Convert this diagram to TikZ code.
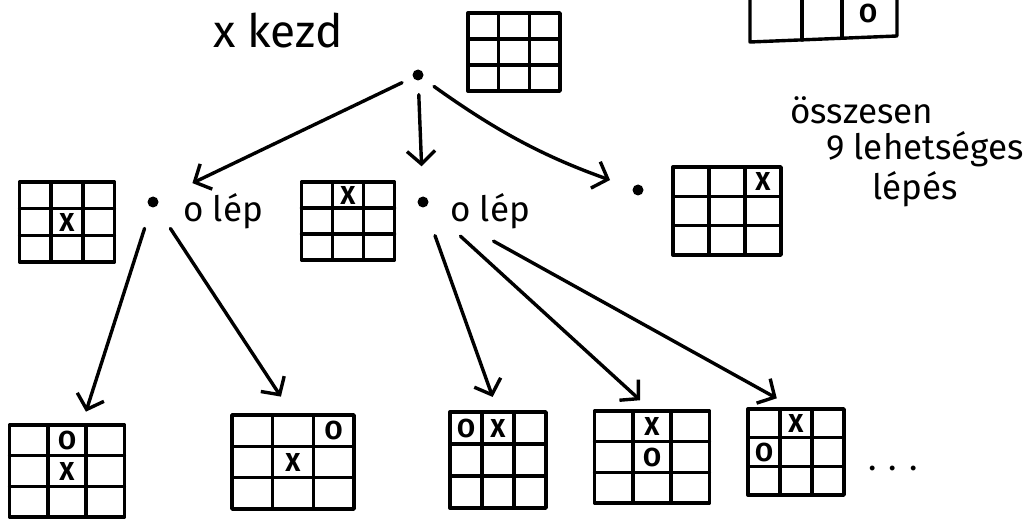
\documentclass[tikz,border=0pt]{standalone}
\usepackage{fontspec}
\setmainfont{Fira Sans}
\usetikzlibrary{arrows.meta,calc}
\tikzset{
 ink/.style={line width=3.4pt, line cap=round, line join=round},
 board/.style={draw, ink, rectangle, inner sep=0pt, outer sep=0pt},
 gridline/.style={ink},
 dot/.style={circle, fill, inner sep=0pt, minimum size=11pt},
 arr/.style={ink, -{Straight Barb[length=13pt,width=28pt]}},
 hand/.style={font=\fontsize{35}{36}\selectfont\mdseries, inner sep=0pt, anchor=base west},
 cellmark/.style={font=\fontsize{26}{26}\selectfont\bfseries, inner sep=0pt},
}
\newcommand\tttboard[5]{%
 \node[board, minimum width=#4pt, minimum height=#5pt] (#1) at (#2,#3) {};
 \foreach \k in {1,2}{
  \draw[gridline] ($(#1.north west)!\k/3!(#1.north east)$) -- ($(#1.south west)!\k/3!(#1.south east)$);
  \draw[gridline] ($(#1.north west)!\k/3!(#1.south west)$) -- ($(#1.north east)!\k/3!(#1.south east)$);
 }
 \foreach \r in {1,2,3}{\foreach \c in {1,2,3}{
   \coordinate (#1-\r\c) at ($(#1.north west)+({(\c-0.5)*#4/3},{(\r-0.5)*#5/3})$);
 }}
}
\begin{document}
\begin{tikzpicture}[x=1pt,y=-1pt]
\useasboundingbox (0,0) rectangle (1032,521);
% partial board at the top right
\begin{scope}
 \clip (0,0) rectangle (1032,521);
 \draw[ink] (750,-5) -- (750,42) -- (897,36) -- (897,-5);
 \draw[ink] (802,-5) -- (802,40);
 \draw[ink] (842,-5) -- (842,38);
 \node[cellmark] (prevO) at (868,13) {O};
\end{scope}
% texts
\node[hand, font=\fontsize{46}{48}\selectfont] (title) at (213,48) {x kezd};
\node[hand] (n1) at (790,124) {összesen};
\node[hand] (n2) at (826,160) {9 lehetséges};
\node[hand] (n3) at (872,200) {lépés};
\node[hand] (olep1) at (183,222) {o lép};
\node[hand] (olep2) at (450,222) {o lép};
\node[hand] (dots) at (868,470) {. . .};
% root
\tttboard{root}{514}{52}{92}{78}
\node[dot] (r) at (418,75) {};
% level 1
\tttboard{A}{67}{222}{95}{80}
\node[cellmark] at (A-22) {X};
\node[dot] (d1) at (153,202) {};
\tttboard{B}{348}{221}{93}{78}
\node[cellmark] at (B-12) {X};
\node[dot] (d2) at (423,202) {};
\tttboard{C}{727}{211}{108}{88}
\node[cellmark] at (C-13) {X};
\node[dot] (d3) at (638,190) {};
% level 2
\tttboard{P}{67}{471}{115}{92}
\node[cellmark] at (P-12) {O};
\node[cellmark] at (P-22) {X};
\tttboard{Q}{293}{462}{122}{94}
\node[cellmark] at (Q-13) {O};
\node[cellmark] at (Q-22) {X};
\tttboard{R}{498}{460}{96}{96}
\node[cellmark] at (R-11) {O};
\node[cellmark] at (R-12) {X};
\tttboard{S}{652}{457}{115}{92}
\node[cellmark] at (S-12) {X};
\node[cellmark] at (S-22) {O};
\tttboard{T}{796}{452}{96}{86}
\node[cellmark] at (T-12) {X};
\node[cellmark] at (T-21) {O};
% arrows
\draw[arr, shorten <=12pt, shorten >=38pt] (r) -- (d1);
\draw[arr, shorten <=14pt, shorten >=30pt] (r) -- (d2);
\draw[arr, shorten <=14pt, shorten >=24pt] (r) to[bend right=8] (d3);
\draw[arr, shorten <=22pt, shorten >=14pt] (d1) -- (P);
\draw[arr, shorten <=26pt, shorten >=22pt] (d1) -- (Q.north);
\draw[arr, shorten <=30pt, shorten >=16pt] (d2) -- (R.north);
\draw[arr, shorten <=45pt, shorten >=16pt] (d2) -- (S.north);
\draw[arr, shorten <=75pt, shorten >=22pt] (d2) -- (T.north);
\end{tikzpicture}
\end{document}
